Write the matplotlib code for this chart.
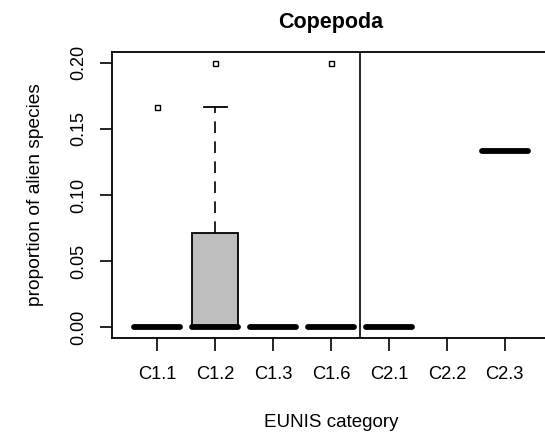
import matplotlib
matplotlib.use("Agg")
import matplotlib.pyplot as plt

plt.rcParams['font.family'] = ['Liberation Sans', 'DejaVu Sans']

# data
categories = ['C1.1', 'C1.2', 'C1.3', 'C1.6', 'C2.1', 'C2.2', 'C2.3']
medians = [0.0, 0.0, 0.0, 0.0, 0.0, None, 0.1333]
q1 = [0.0, 0.0, 0.0, 0.0, 0.0, None, 0.1333]
q3 = [0.0, 0.0714, 0.0, 0.0, 0.0, None, 0.1333]
whis_lo = [0.0, 0.0, 0.0, 0.0, 0.0, None, 0.1333]
whis_hi = [0.0, 0.1667, 0.0, 0.0, 0.0, None, 0.1333]
outliers = [[0.1667], [0.2], [], [0.2], [], [], []]
y_ticks = [0.00, 0.05, 0.10, 0.15, 0.20]

#-----------------------------------------------------------------------------

fig = plt.figure(figsize=(5.45, 4.32), dpi=100)
ax = fig.add_axes([112/545, 94/432, 438/545, 286/432])

stats = []
pos = []
for i, name in enumerate(categories):
    if medians[i] is None:  # C2.2 has no data
        continue
    stats.append(dict(med=medians[i], q1=q1[i], q3=q3[i],
                      whislo=whis_lo[i], whishi=whis_hi[i],
                      fliers=outliers[i], label=name))
    pos.append(i + 1)

ax.bxp(stats, positions=pos, widths=0.8, patch_artist=True,
       boxprops=dict(facecolor='#bebebe', edgecolor='black', linewidth=1.3),
       medianprops=dict(color='black', linewidth=4.2, solid_capstyle='round'),
       whiskerprops=dict(color='black', linewidth=1.2, linestyle=(0, (7, 5))),
       capprops=dict(color='black', linewidth=1.3),
       capwidths=0.4,
       flierprops=dict(marker='s', markersize=3.6, markerfacecolor='none',
                       markeredgecolor='black', markeredgewidth=1.0))

ax.axvline(4.5, color='black', linewidth=1.2)

ax.set_xlim(0.22, 7.78)
ax.set_ylim(-0.008, 0.208)
ax.set_xticks(range(1, len(categories) + 1))
ax.set_xticklabels(categories)
ax.set_yticks(y_ticks)
ax.set_yticklabels(['%.2f' % v for v in y_ticks], rotation=90, va='center')
ax.tick_params(axis='x', direction='out', length=9.5, width=1.2, pad=11, labelsize=13.2)
ax.tick_params(axis='y', direction='out', length=8.8, width=1.2, pad=9, labelsize=13)
for s in ax.spines.values():
    s.set_linewidth(1.3)

fig.text(331/545, 1 - 28/432, 'Copepoda', ha='center', va='baseline',
         fontsize=15.5, fontweight='bold')
fig.text(331/545, 1 - 427/432, 'EUNIS category', ha='center', va='baseline',
         fontsize=13.5)
fig.text(35.5/545, 1 - 195/432, 'proportion of alien species', ha='center',
         va='center', rotation=90, fontsize=13.8)

fig.savefig('out.png', dpi=100)
